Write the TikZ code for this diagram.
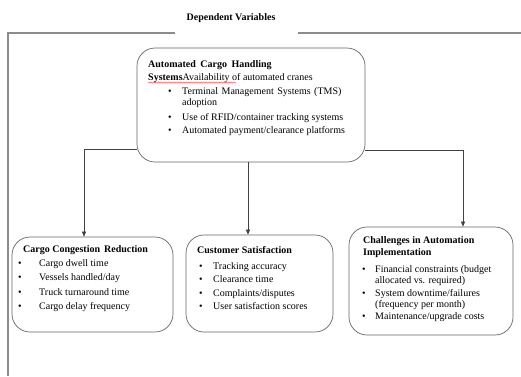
\documentclass[tikz,border=0pt]{standalone}
\usepackage{fontspec}
\setmainfont{Liberation Serif}
\usetikzlibrary{arrows.meta,decorations.pathmorphing}
\begin{document}
\begin{tikzpicture}[x=1pt,y=-1pt,
  frameline/.style={draw=black!45,line width=1.1pt},
  box/.style={draw=black!60,line width=0.7pt,rounded corners=18pt,rectangle,inner sep=0pt},
  conn/.style={draw=black!75,line width=0.6pt,-{Triangle[length=5pt,width=4pt]}},
  txt/.style={anchor=base west,inner sep=0pt,font=\fontsize{10}{12}\selectfont},
  bul/.style={anchor=base west,inner sep=0pt,font=\fontsize{10}{12}\selectfont}
]
\useasboundingbox (0,0) rectangle (521,376);
\fill[white] (0,0) rectangle (521,376);
% frame
\node[anchor=base,inner sep=0pt,font=\fontsize{10}{12}\selectfont\bfseries] (title) at (231,20) {Dependent Variables};
\coordinate (fl) at (175,33);
\coordinate (fr) at (298,33);
\draw[frameline] (fl) -- (8,33) -- (8,376);
\draw[frameline] (fr) -- (521,33);
% boxes
\node[box,minimum width=228pt,minimum height=114pt] (top) at (251,105) {};
\node[box,minimum width=161pt,minimum height=95pt] (cargo) at (92.5,284.5) {};
\node[box,minimum width=147pt,minimum height=97pt] (cust) at (259.5,283.5) {};
\node[box,minimum width=164pt,minimum height=108pt] (chal) at (431,281) {};
% connectors
\coordinate (a1) at (84,149);
\coordinate (a2) at (248,0);
\coordinate (a3) at (463,150);
\draw[conn] (top.west |- a1) -| (a1 |- cargo.north);
\draw[conn] (a2 |- top.south) -- (a2 |- cust.north);
\draw[conn] (top.east |- a3) -| (a3 |- chal.north);
% top box text
\node[txt] (t1) at (148,67) {\textbf{Automated\hspace{4.5pt}Cargo\hspace{4.5pt}Handling}};
\node[txt] (t2) at (148,80) {\textbf{Systems}Availability of automated cranes};
\draw[red!80,line width=0.4pt,decorate,decoration={snake,amplitude=0.6pt,segment length=2.5pt}] (148,82.5) -- (236,82.5);
\node[bul] (tb1) at (168,94) {•};
\node[txt] (ti1) at (182,94) {Terminal\hspace{3.5pt}Management\hspace{3.5pt}Systems\hspace{3.5pt}(TMS)};
\node[txt] (ti1b) at (182,105) {adoption};
\node[bul] (tb2) at (168,120) {•};
\node[txt] (ti2) at (182,120) {Use of RFID/container tracking systems};
\node[bul] (tb3) at (168,133) {•};
\node[txt] (ti3) at (182,133) {Automated payment/clearance platforms};
% cargo box text
\node[txt] (c0) at (23,252) {\textbf{Cargo Congestion\hspace{4pt}Reduction}};
\node[bul] (cb1) at (18,266) {•};
\node[txt] (c1) at (39,266) {Cargo dwell time};
\node[bul] (cb2) at (18,280) {•};
\node[txt] (c2) at (39,280) {Vessels handled/day};
\node[bul] (cb3) at (18,295) {•};
\node[txt] (c3) at (39,295) {Truck turnaround time};
\node[bul] (cb4) at (18,309) {•};
\node[txt] (c4) at (39,309) {Cargo delay frequency};
% customer box text
\node[txt] (s0) at (197,253) {\textbf{Customer Satisfaction}};
\node[bul] (sb1) at (199,269) {•};
\node[txt] (s1) at (213,269) {Tracking accuracy};
\node[bul] (sb2) at (199,282) {•};
\node[txt] (s2) at (213,282) {Clearance time};
\node[bul] (sb3) at (199,296) {•};
\node[txt] (s3) at (213,296) {Complaints/disputes};
\node[bul] (sb4) at (199,309) {•};
\node[txt] (s4) at (213,309) {User satisfaction scores};
% challenges box text
\node[txt] (h0) at (363,243) {\textbf{Challenges in Automation}};
\node[txt] (h0b) at (363,255) {\textbf{Implementation}};
\node[bul] (hb1) at (362,272) {•};
\node[txt] (h1) at (375,272) {Financial constraints (budget};
\node[txt] (h1b) at (375,283) {allocated vs. required)};
\node[bul] (hb2) at (362,296) {•};
\node[txt] (h2) at (375,296) {System downtime/failures};
\node[txt] (h2b) at (375,307) {(frequency per month)};
\node[bul] (hb3) at (362,319) {•};
\node[txt] (h3) at (375,319) {Maintenance/upgrade costs};
\end{tikzpicture}
\end{document}
